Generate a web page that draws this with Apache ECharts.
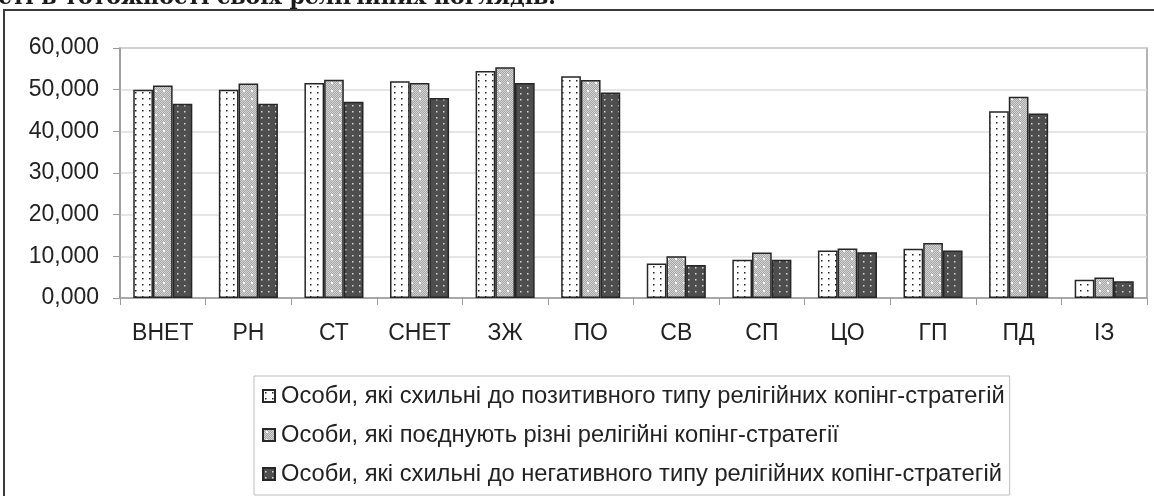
<!DOCTYPE html>
<html>
<head>
<meta charset="utf-8">
<script src="https://cdn.jsdelivr.net/npm/echarts@6/dist/echarts.min.js"></script>
<style>
html, body { margin: 0; padding: 0; background: #fff; }
#chart { width: 1154px; height: 496px; }
</style>
</head>
<body>
<div id="chart"></div>
<script>
const categories = ["ВНЕТ", "РН", "СТ", "СНЕТ", "ЗЖ", "ПО", "СВ", "СП", "ЦО", "ГП", "ПД", "ІЗ"];
const seriesNames = [
    "Особи, які схильні до позитивного типу релігійних копінг-стратегій",
    "Особи, які поєднують різні релігійні копінг-стратегії",
    "Особи, які схильні до негативного типу релігійних копінг-стратегій"
];
const positiveValues = [50.0, 50.0, 51.6, 52.0, 54.5, 53.2, 8.3, 9.2, 11.4, 11.8, 44.8, 4.4];
const mixedValues = [51.0, 51.5, 52.4, 51.6, 55.4, 52.3, 10.0, 10.9, 11.9, 13.2, 48.3, 4.9];
const negativeValues = [46.6, 46.6, 47.1, 48.0, 51.6, 49.3, 7.9, 9.2, 11.0, 11.4, 44.3, 4.0];

// fill patterns like the scanned Excel chart
function makePattern(w, h, draw) {
    const c = document.createElement("canvas");
    c.width = w;
    c.height = h;
    draw(c.getContext("2d"));
    return { image: c, repeat: "repeat" };
}

const dotsWhite = makePattern(7, 12, ctx => {
    ctx.fillStyle = "#ffffff";
    ctx.fillRect(0, 0, 7, 12);
    ctx.fillStyle = "#222";
    ctx.fillRect(2, 2, 1.5, 1.5);
    ctx.fillRect(2, 8, 1.5, 1.5);
});

const checkerGray = makePattern(8, 8, ctx => {
    for (let x = 0; x < 8; x++) {
        for (let y = 0; y < 8; y++) {
            ctx.fillStyle = (x + y) % 2 ? "#a6a6a6" : "#d4d4d4";
            ctx.fillRect(x, y, 1, 1);
        }
    }
    ctx.fillStyle = "#f4f4f4";
    ctx.fillRect(3, 2, 2, 2);
});

const dotsDark = makePattern(7, 12, ctx => {
    ctx.fillStyle = "#4e4e4e";
    ctx.fillRect(0, 0, 7, 12);
    ctx.fillStyle = "#d8d8d8";
    ctx.fillRect(2, 3, 1.5, 1.5);
    ctx.fillRect(2, 9, 1.5, 1.5);
});

const fills = [dotsWhite, checkerGray, dotsDark];
const allValues = [positiveValues, mixedValues, negativeValues];

var chart = echarts.init(document.getElementById("chart"));

chart.setOption({
    backgroundColor: "#fff",
    animation: false,
    graphic: [
        {
            type: "rect",
            shape: { x: 4, y: 10, width: 1200, height: 600 },
            style: { fill: "none", stroke: "#3a3a3a", lineWidth: 2 }
        },
        {
            type: "text",
            x: 556,
            y: 9,
            style: {
                text: "особистості в тотожності своїх релігійних поглядів.",
                font: "bold 22px 'DejaVu Serif'",
                fill: "#1a1a1a",
                align: "right",
                verticalAlign: "bottom"
            }
        }
    ],
    grid: {
        left: 120,
        top: 48,
        right: 7,
        bottom: 198,
        show: true,
        borderColor: "#9a9a9a",
        borderWidth: 1.5
    },
    legend: {
        orient: "vertical",
        left: 254,
        top: 376,
        padding: [8, 5, 9, 8],
        itemGap: 15,
        itemWidth: 12,
        itemHeight: 12,
        icon: "rect",
        borderColor: "#bcbcbc",
        borderWidth: 1,
        backgroundColor: "#fff",
        textStyle: {
            fontFamily: "Liberation Sans",
            fontSize: 23.7,
            color: "#222",
            padding: [0, 0, 0, 1]
        },
        data: seriesNames
    },
    xAxis: {
        type: "category",
        data: categories,
        axisLine: { lineStyle: { color: "#9a9a9a", width: 1.5 } },
        axisTick: { show: true, length: 7, lineStyle: { color: "#9a9a9a" } },
        axisLabel: {
            fontFamily: "Liberation Sans",
            fontSize: 23,
            color: "#222",
            margin: 24
        }
    },
    yAxis: {
        type: "value",
        min: 0,
        max: 60,
        interval: 10,
        axisLine: { show: true, lineStyle: { color: "#9a9a9a", width: 1.5 } },
        axisTick: { show: true, length: 7, lineStyle: { color: "#9a9a9a" } },
        splitLine: { lineStyle: { color: "#dcdcdc", width: 1.5 } },
        axisLabel: {
            fontFamily: "Liberation Sans",
            fontSize: 23,
            color: "#222",
            margin: 21,
            formatter: v => v.toFixed(3).replace(".", ",")
        }
    },
    series: seriesNames.map((name, i) => ({
        name: name,
        type: "bar",
        data: allValues[i],
        barGap: "0%",
        barCategoryGap: "31%",
        itemStyle: {
            color: fills[i],
            borderColor: "#262626",
            borderWidth: 1.5
        }
    }))
});
</script>
</body>
</html>
